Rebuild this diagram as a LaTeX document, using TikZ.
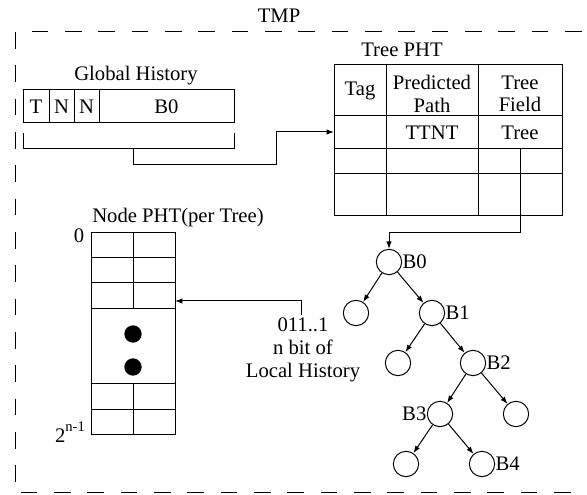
\documentclass[tikz,border=0pt]{standalone}
\usepackage{fontspec}
\setmainfont{Liberation Serif}
\usetikzlibrary{arrows.meta}

\tikzset{every picture/.style={line width=0.75pt}}
\tikzset{
  txt/.style={inner sep=0.75pt, font=\fontsize{15.5pt}{17pt}\selectfont},
  branch/.style={circle, draw, minimum size=19pt, inner sep=0pt},
  arr/.style={-{Latex[length=5.5pt,width=4pt]}},
  frame/.style={dash pattern=on 12.5pt off 12.5pt}
}

\begin{document}
\begin{tikzpicture}[x=0.75pt,y=0.75pt,yscale=-1]
\useasboundingbox (0,0) rectangle (587,495);

%Dashed frame
\draw [frame] (15,32) rectangle (587.3,493);
% Text Node
\node [txt] (tmp) at (279,16) {TMP};

%Global History register
\node [txt] (ghlabel) at (136,76) {Global History};
\draw (23,90) rectangle (234,123);
\draw (49,90) -- (49,123);
\draw (74,90) -- (74,123);
\draw (99,90) -- (99,123);
\node [txt] (gt) at (36,106.5) {T};
\node [txt] (gn1) at (61.5,106.5) {N};
\node [txt] (gn2) at (86.5,106.5) {N};
\node [txt] (gb0) at (166.5,106.5) {B0};
%bracket under the register
\draw (23,133) -- (23,149) -- (234,149) -- (234,133);
\coordinate (ghtap) at (133,149);
\coordinate (ghturn) at (276,165);

%Tree PHT
\node [txt] (tplabel) at (402,50) {Tree PHT};
\draw (334,65) rectangle (562,216);
\draw (334,116) -- (562,116);
\draw (334,149) -- (562,149);
\draw (334,174) -- (562,174);
\draw (386,65) -- (386,216);
\draw (478,65) -- (478,216);
\node [txt] (tag) at (360,91) {Tag};
\node [txt, align=center] (ppath) at (432,94) {Predicted\\Path};
\node [txt, align=center] (tfield) at (520,94) {Tree\\Field};
\node [txt] (ttnt) at (432,132.5) {TTNT};
\node [txt] (tree) at (520,132.5) {Tree};
\coordinate (tpin) at (334,132);
\coordinate (tftap) at (520,149);
\coordinate (tfturn) at (520,233);

%Global History -> Tree PHT
\draw [arr] (ghtap) |- (ghturn) |- (tpin);

%Node PHT
\node [txt] (nplabel) at (178,218) {Node PHT(per Tree)};
\draw (91,233) rectangle (175,435);
\draw (91,258) -- (175,258);
\draw (91,283) -- (175,283);
\draw (91,309) -- (175,309);
\draw (91,384) -- (175,384);
\draw (91,410) -- (175,410);
\draw (133,233) -- (133,309);
\draw (133,384) -- (133,435);
\fill (133,334) circle [radius=6.5pt];
\fill (133,367) circle [radius=6.5pt];
\node [txt] (idx0) at (79,236) {0};
\node [txt] (idxn) at (70,432) {2\raisebox{1.2ex}{\fontsize{11pt}{12pt}\selectfont n-1}};
\coordinate (npin) at (175,301);

%Local history
\node [txt, align=center, font=\fontsize{15.5pt}{17.5pt}\selectfont] (lh) at (303,350) {011..1\\n bit of\\Local History};
\coordinate (lhtop) at (301,315);
\draw [arr] (lhtop) |- (npin);

%Tree
\node [branch] (b0) at (389,262) {};
\node [branch] (n0) at (356,313) {};
\node [branch] (b1) at (432,313) {};
\node [branch] (n1) at (398,363) {};
\node [branch] (b2) at (473,363) {};
\node [branch] (b3) at (440,414) {};
\node [branch] (n2) at (516,414) {};
\node [branch] (n3) at (406,464) {};
\node [branch] (b4) at (482,464) {};
\node [txt, anchor=west, inner sep=0pt] (lb0) at (b0.east) {B0};
\node [txt, anchor=west, inner sep=0pt] (lb1) at (b1.east) {B1};
\node [txt, anchor=west, inner sep=0pt] (lb2) at (b2.east) {B2};
\node [txt, anchor=east, inner sep=0pt] (lb3) at (b3.west) {B3};
\node [txt, anchor=west, inner sep=0pt] (lb4) at (b4.east) {B4};

%Tree PHT -> tree root
\draw [arr] (tftap) -- (tfturn) -| (b0);

%Branches
\draw [arr] (b0) -- (n0);
\draw [arr] (b0) -- (b1);
\draw [arr] (b1) -- (n1);
\draw [arr] (b1) -- (b2);
\draw [arr] (b2) -- (b3);
\draw [arr] (b2) -- (n2);
\draw [arr] (b3) -- (n3);
\draw [arr] (b3) -- (b4);

\end{tikzpicture}
\end{document}
